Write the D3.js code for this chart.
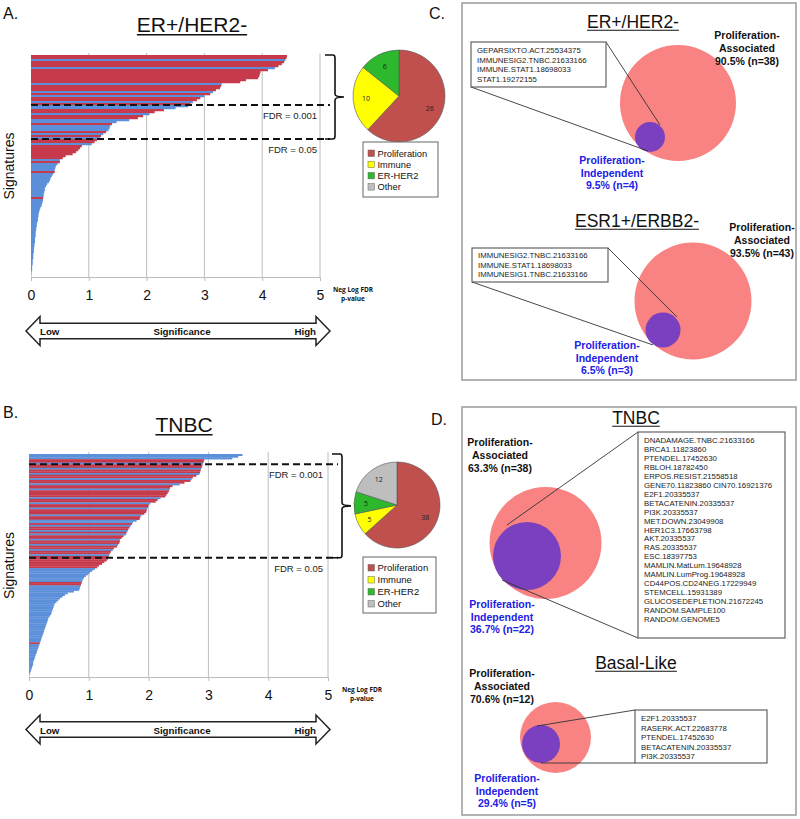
<!DOCTYPE html>
<html><head><meta charset="utf-8">
<script src="https://cdn.jsdelivr.net/npm/d3@7"></script>
<style>body{margin:0;background:#fff}svg{display:block}</style>
</head><body><svg id="c" width="800" height="819"></svg>
<script>
// ---------------- DATA ----------------
const xTicks = [0, 1, 2, 3, 4, 5];
const pieCategories = ["Proliferation", "Immune", "ER-HER2", "Other"];
const erPieCounts = [26, 10, 6, 0];
const tnbcPieCounts = [38, 5, 5, 12];
const fdrLabels = ["FDR = 0.001", "FDR = 0.05"];
const erFdrCounts = [25, 42];
const tnbcFdrCounts = [6, 60];

const erValues = [4.43,4.42,4.40,4.38,4.34,4.28,4.22,4.10,3.97,3.96,
 3.95,3.93,3.72,3.62,3.30,3.29,3.27,3.20,3.15,3.10,
 3.00,2.93,2.87,2.80,2.76,2.72,2.50,2.30,2.14,2.05,
 1.94,1.85,1.70,1.48,1.40,1.37,1.36,1.34,1.30,1.25,
 1.21,1.19,1.14,1.10,1.05,0.88,0.85,0.82,0.78,0.72,
 0.60,0.55,0.50,0.50,0.46,0.43,0.42,0.41,0.41,0.38,
 0.36,0.34,0.33,0.31,0.28,0.26,0.24,0.24,0.23,0.22,
 0.22,0.21,0.21,0.20,0.19,0.18,0.16,0.15,0.14,0.13,
 0.13,0.12,0.12,0.11,0.10,0.10,0.09,0.09,0.08,0.08,
 0.08,0.07,0.07,0.07,0.06,0.06,0.05,0.05,0.05,0.04,
 0.04,0.04,0.03,0.03,0.03,0.02,0.02,0.02,0.01,0.01,
 0.005];
const erProlif = [1,1,0,1,1,1,0,1,1,1,
 1,1,1,1,0,1,1,1,0,1,
 0,1,1,0,1,0,0,1,1,0,
 1,1,0,0,1,0,0,0,1,0,
 1,0,1,1,0,1,1,1,1,1,
 1,1,0,1,0,0,0,0,1,0,
 0,0,0,0,0,0,0,0,0,0,
 0,1,0,0,0,0,0,0,0,0,
 0,0,0,0,0,0,0,0,0,0,
 0,0,0,0,0,0,0,0,0,0,
 0,0,0,0,0,0,0,0,0,0,
 0];

const tnbcValues = [3.57,3.50,3.40,2.93,2.92,2.91,2.90,2.89,2.88,2.87,
 2.86,2.85,2.80,2.74,2.72,2.70,2.60,2.52,2.40,2.36,
 2.35,2.34,2.32,2.30,2.28,2.20,2.15,2.12,2.03,2.00,
 1.99,1.98,1.97,1.96,1.93,1.88,1.86,1.85,1.80,1.74,
 1.72,1.70,1.68,1.66,1.65,1.63,1.62,1.58,1.55,1.52,
 1.52,1.51,1.49,1.47,1.42,1.40,1.37,1.35,1.34,1.33,
 1.32,1.30,1.26,1.22,1.17,1.14,1.10,1.06,1.02,0.99,
 0.95,0.92,0.90,0.89,0.88,0.87,0.86,0.85,0.84,0.75,
 0.65,0.60,0.56,0.52,0.49,0.46,0.43,0.42,0.41,0.40,
 0.39,0.38,0.37,0.35,0.33,0.32,0.31,0.30,0.29,0.28,
 0.27,0.26,0.25,0.24,0.23,0.22,0.21,0.20,0.19,0.18,
 0.17,0.16,0.15,0.14,0.13,0.12,0.11,0.10,0.09,0.08,
 0.07,0.07,0.06,0.05,0.04,0.03,0.02,0.01,0.005];
const tnbcProlif = [0,0,0,1,1,0,1,1,0,1,
 1,0,1,1,0,1,1,0,1,1,
 0,1,1,1,1,0,1,1,0,1,
 1,0,1,1,1,0,1,1,0,0,
 1,0,1,1,0,1,0,1,1,0,
 1,1,0,1,1,0,1,1,0,1,
 1,1,1,1,1,1,0,0,0,0,
 0,0,0,0,1,1,0,0,0,0,
 0,0,0,0,0,0,0,0,0,0,
 0,0,0,0,0,0,0,0,0,0,
 0,0,0,0,0,0,0,0,0,1,
 0,0,0,0,0,0,0,0,0,0,
 0,0,0,0,0,0,0,0,0];

const vennTitles = ["ER+/HER2-", "ESR1+/ERBB2-", "TNBC", "Basal-Like"];
const vennAssocPct = ["90.5%", "93.5%", "63.3%", "70.6%"];
const vennAssocN = [38, 43, 38, 12];
const vennIndepPct = ["9.5%", "6.5%", "36.7%", "29.4%"];
const vennIndepN = [4, 3, 22, 5];
const vennIndepLists = [
 ["GEPARSIXTO.ACT.25534375","IMMUNESIG2.TNBC.21633166","IMMUNE.STAT1.18698033","STAT1.19272155"],
 ["IMMUNESIG2.TNBC.21633166","IMMUNE.STAT1.18698033","IMMUNESIG1.TNBC.21633166"],
 ["DNADAMAGE.TNBC.21633166","BRCA1.11823860","PTENDEL.17452630","RBLOH.18782450","ERPOS.RESIST.21558518",
  "GENE70.11823860 CIN70.16921376","E2F1.20335537","BETACATENIN.20335537","PI3K.20335537","MET.DOWN.23049908",
  "HER1C3.17663798","AKT.20335537","RAS.20335537","ESC.18397753","MAMLIN.MatLum.19648928","MAMLIN.LumProg.19648928",
  "CD44POS.CD24NEG.17229949","STEMCELL.15931389","GLUCOSEDEPLETION.21672245","RANDOM.SAMPLE100","RANDOM.GENOME5"],
 ["E2F1.20335537","RASERK.ACT.22683778","PTENDEL.17452630","BETACATENIN.20335537","PI3K.20335537"]
];

// ---------------- STYLE ----------------
const FONT = '"Liberation Sans", Arial, Helvetica, sans-serif';
const LEGFONT = '"Open Sans", "Liberation Sans", Arial, sans-serif';
const BAR_RED = "#C63A4C", BAR_BLUE = "#5B8FD9";
const pieColors = ["#C0504D", "#FFFF00", "#2DB82D", "#BEBEBE"];
const GRID = "#BDBDBD";
const SALMON = "#F98282", PURPLE = "#7B40BF", INDEP_BLUE = "#2020E6";

const svg = d3.select("#c");
svg.append("rect").attr("width", 800).attr("height", 819).attr("fill", "#fff");

function txt(g, s, x, y, size, opts = {}) {
  return g.append("text").attr("x", x).attr("y", y).text(s)
    .attr("font-family", opts.family || FONT).attr("font-size", size)
    .attr("font-weight", opts.bold ? "bold" : "normal")
    .attr("text-anchor", opts.anchor || "start")
    .attr("fill", opts.fill || "#111");
}
function titleU(g, s, x, y, size) {
  const t = txt(g, s, x, y, size, { anchor: "middle" });
  const w = t.node().getComputedTextLength();
  g.append("line").attr("x1", x - w / 2).attr("x2", x + w / 2)
    .attr("y1", y + size * 0.13).attr("y2", y + size * 0.13)
    .attr("stroke", "#111").attr("stroke-width", Math.max(1, size * 0.065));
}

// ---------------- BAR PANELS ----------------
function barPanel(o) {
  const g = svg.append("g");
  txt(g, o.letter, 3, o.letterY, 16);
  titleU(g, o.title, o.titleX, o.titleY, o.titleSize);
  const x = d3.scaleLinear().domain([0, 5]).range([o.x0, o.x5]);
  const y = d3.scaleBand().domain(d3.range(o.values.length)).range([o.top, o.bottom]).paddingInner(0);
  g.selectAll("line.grid").data(xTicks.slice(1)).join("line").attr("class", "grid")
    .attr("x1", d => x(d)).attr("x2", d => x(d)).attr("y1", o.top - 2).attr("y2", o.bottom)
    .attr("stroke", GRID).attr("stroke-width", 1);
  g.selectAll("rect.bar").data(o.values).join("rect").attr("class", "bar")
    .attr("x", x(0)).attr("y", (d, i) => y(i))
    .attr("width", d => x(d) - x(0)).attr("height", y.bandwidth() + 0.25)
    .attr("fill", (d, i) => o.prolif[i] ? BAR_RED : BAR_BLUE);
  const ax = g.append("g").attr("transform", `translate(0,${o.bottom})`)
    .call(d3.axisBottom(x).tickValues(xTicks).tickSize(4).tickSizeOuter(0).tickPadding(9).tickFormat(d3.format("d")));
  ax.select(".domain").attr("stroke", GRID);
  ax.selectAll(".tick line").attr("stroke", GRID);
  ax.selectAll("text").attr("font-size", 14).attr("font-family", FONT).attr("fill", "#111");
  // y label
  g.append("text").attr("transform", `translate(14,${(o.top + o.bottom) / 2}) rotate(-90)`)
    .attr("text-anchor", "middle").attr("font-family", FONT).attr("font-size", 14).attr("fill", "#111").text("Signatures");
  // Neg log label
  txt(g, "Neg Log FDR", o.negX, o.negY, 6.5, { bold: true, anchor: "middle", family: LEGFONT });
  txt(g, "p-value", o.negX, o.negY + 9, 6.5, { bold: true, anchor: "middle", family: LEGFONT });
  // FDR dashed lines
  const fy = o.fdrCounts.map(c => y(c));
  g.selectAll("line.fdr").data(fy).join("line").attr("class", "fdr")
    .attr("x1", o.x0).attr("x2", o.dashEnd).attr("y1", d => d).attr("y2", d => d)
    .attr("stroke", "#111").attr("stroke-width", 2).attr("stroke-dasharray", "7,4");
  g.selectAll("text.fdr").data(fy).join("text").attr("class", "fdr")
    .attr("x", o.fdrLabelX).attr("y", d => d + 14).attr("text-anchor", "end")
    .attr("font-family", FONT).attr("font-size", 9.5).attr("fill", "#222")
    .text((d, i) => fdrLabels[i]);
  // bracket
  const top = o.top, bot = fy[1], mid = (top + bot) / 2, xv = o.brX, xl = o.brX - 10;
  g.append("path").attr("d",
    `M${xl},${top} H${xv - 2} Q${xv},${top} ${xv},${top + 3} V${mid - 3} Q${xv},${mid} ${xv + 9},${mid} ` +
    `M${xv + 9},${mid} Q${xv},${mid} ${xv},${mid + 3} V${bot - 3} Q${xv},${bot} ${xv - 2},${bot} H${xl}`)
    .attr("fill", "none").attr("stroke", "#111").attr("stroke-width", 1.6);
  // arrow
  const ay = o.arrowY, sh = 7.8, hh = 14.5, hl = 14, L = 26, R = 330;
  g.append("path").attr("d",
    `M${L},${ay} L${L + hl},${ay - hh} V${ay - sh} H${R - hl} V${ay - hh} L${R},${ay} L${R - hl},${ay + hh} V${ay + sh} H${L + hl} V${ay + hh} Z`)
    .attr("fill", "#fff").attr("stroke", "#222").attr("stroke-width", 1.5);
  txt(g, "Low", 40, ay + 4, 9.7, { bold: true });
  txt(g, "Significance", 182, ay + 4, 9.7, { bold: true, anchor: "middle" });
  txt(g, "High", 316, ay + 4, 9.7, { bold: true, anchor: "end" });
  // pie
  const pg = g.append("g").attr("transform", `translate(${o.pieX},${o.pieY})`);
  const arcs = d3.pie().sort(null).value(d => d)(o.pieCounts);
  const arc = d3.arc().innerRadius(0).outerRadius(o.pieR);
  const lab = d3.arc().innerRadius(o.pieR * 0.72).outerRadius(o.pieR * 0.72);
  pg.selectAll("path").data(arcs.filter(a => a.value > 0)).join("path")
    .attr("d", arc).attr("fill", d => pieColors[d.index]).attr("stroke", "#555").attr("stroke-width", 0.6);
  pg.selectAll("text").data(arcs.filter(a => a.value > 0)).join("text")
    .attr("transform", d => `translate(${lab.centroid(d)})`).attr("text-anchor", "middle").attr("dy", "0.35em")
    .attr("font-family", LEGFONT).attr("font-size", 7).attr("fill", "#222").text(d => d.value);
  // legend
  const lg = g.append("g");
  lg.append("rect").attr("x", o.legX).attr("y", o.legY).attr("width", o.legW).attr("height", o.legH)
    .attr("fill", "#fff").attr("stroke", "#666").attr("stroke-width", 1);
  const rows = lg.selectAll("g.row").data(pieCategories).join("g").attr("class", "row")
    .attr("transform", (d, i) => `translate(${o.legX + 5},${o.legRow0 + i * o.legStep})`);
  rows.append("rect").attr("x", 0).attr("y", -6.5).attr("width", 6.5).attr("height", 6.5)
    .attr("fill", (d, i) => pieColors[i]).attr("stroke", "#666").attr("stroke-width", 0.5);
  rows.append("text").attr("x", 9.5).attr("y", 0).attr("font-family", FONT).attr("font-size", o.legFont)
    .attr("fill", "#111").text(d => d);
}

barPanel({ letter: "A.", letterY: 19, title: "ER+/HER2-", titleX: 192, titleY: 32, titleSize: 21,
  values: erValues, prolif: erProlif, x0: 31, x5: 320, top: 55, bottom: 277,
  negX: 353, negY: 292, fdrCounts: erFdrCounts, dashEnd: 330, fdrLabelX: 317, brX: 335, arrowY: 331,
  pieCounts: erPieCounts, pieX: 399, pieY: 96, pieR: 46,
  legX: 363, legY: 142, legW: 75, legH: 55, legRow0: 156.5, legStep: 11.2, legFont: 9.3 });

barPanel({ letter: "B.", letterY: 418, title: "TNBC", titleX: 184, titleY: 432, titleSize: 21,
  values: tnbcValues, prolif: tnbcProlif, x0: 29, x5: 328, top: 454, bottom: 677,
  negX: 362, negY: 692, fdrCounts: tnbcFdrCounts, dashEnd: 338, fdrLabelX: 323, brX: 342, arrowY: 729.5,
  pieCounts: tnbcPieCounts, pieX: 397, pieY: 505, pieR: 43,
  legX: 363, legY: 557, legW: 73, legH: 56, legRow0: 571, legStep: 12, legFont: 9.5 });

// ---------------- VENN PANELS ----------------
const cg = svg.append("g");
cg.append("rect").attr("x", 462).attr("y", 3).attr("width", 334).attr("height", 377)
  .attr("fill", "none").attr("stroke", "#9a9a9a").attr("stroke-width", 1.5);
cg.append("rect").attr("x", 462).attr("y", 407).attr("width", 334).attr("height", 408)
  .attr("fill", "none").attr("stroke", "#9a9a9a").attr("stroke-width", 1.5);
txt(cg, "C.", 429, 19, 16);
txt(cg, "D.", 431, 425, 16);

const vennLayout = [
  { tx: 633, ty: 28, big: [678, 103, 58], small: [650, 137, 15], box: [471, 42, 135, 45], tb: 53, ts: 9.7,
    l1: [606, 42, 660, 125], l2: [471, 87, 648, 151], ax: 747, ay: 39, ix: 612, iy: 164 },
  { tx: 637, ty: 227, big: [693, 301, 58.5], small: [663, 330, 17.5], box: [472, 248, 136, 34], tb: 258, ts: 9.5,
    l1: [608, 248, 677, 317], l2: [472, 282, 653, 345], ax: 762, ay: 231, ix: 607, iy: 349 },
  { tx: 636, ty: 424, big: [545.5, 543, 56], small: [527, 556, 34], box: [638, 432, 147, 206], tb: 443, ts: 8.95,
    l1: [638, 432, 507, 525], l2: [638, 638, 502, 580], ax: 500, ay: 446, ix: 502, iy: 608 },
  { tx: 636, ty: 669, big: [555.5, 737.5, 35.5], small: [541, 744, 19], box: [635, 710, 132, 53], tb: 721, ts: 9.5,
    l1: [635, 710, 537, 726], l2: [635, 763, 541, 763], ax: 502, ay: 677, ix: 507, iy: 782 }
];

vennLayout.forEach((L, k) => {
  const g = svg.append("g");
  titleU(g, vennTitles[k], L.tx, L.ty, 17.5);
  g.append("circle").attr("cx", L.big[0]).attr("cy", L.big[1]).attr("r", L.big[2]).attr("fill", SALMON);
  g.append("circle").attr("cx", L.small[0]).attr("cy", L.small[1]).attr("r", L.small[2]).attr("fill", PURPLE);
  [L.l1, L.l2].forEach(l => g.append("line").attr("x1", l[0]).attr("y1", l[1]).attr("x2", l[2]).attr("y2", l[3])
    .attr("stroke", "#333").attr("stroke-width", 0.9));
  g.append("rect").attr("x", L.box[0]).attr("y", L.box[1]).attr("width", L.box[2]).attr("height", L.box[3])
    .attr("fill", "#fff").attr("stroke", "#555").attr("stroke-width", 1.1);
  g.selectAll("text.sig").data(vennIndepLists[k]).join("text").attr("class", "sig")
    .attr("x", L.box[0] + 6).attr("y", (d, i) => L.tb + i * L.ts)
    .attr("font-family", FONT).attr("font-size", 7.8).attr("fill", "#222").text(d => d);
  const assoc = ["Proliferation-", "Associated", `${vennAssocPct[k]} (n=${vennAssocN[k]})`];
  const indep = ["Proliferation-", "Independent", `${vennIndepPct[k]} (n=${vennIndepN[k]})`];
  assoc.forEach((s, i) => txt(g, s, L.ax, L.ay + i * 13, 10.5, { bold: true, anchor: "middle" }));
  indep.forEach((s, i) => txt(g, s, L.ix, L.iy + i * 12.5, 10.5, { bold: true, anchor: "middle", fill: INDEP_BLUE }));
});
</script></body></html>
